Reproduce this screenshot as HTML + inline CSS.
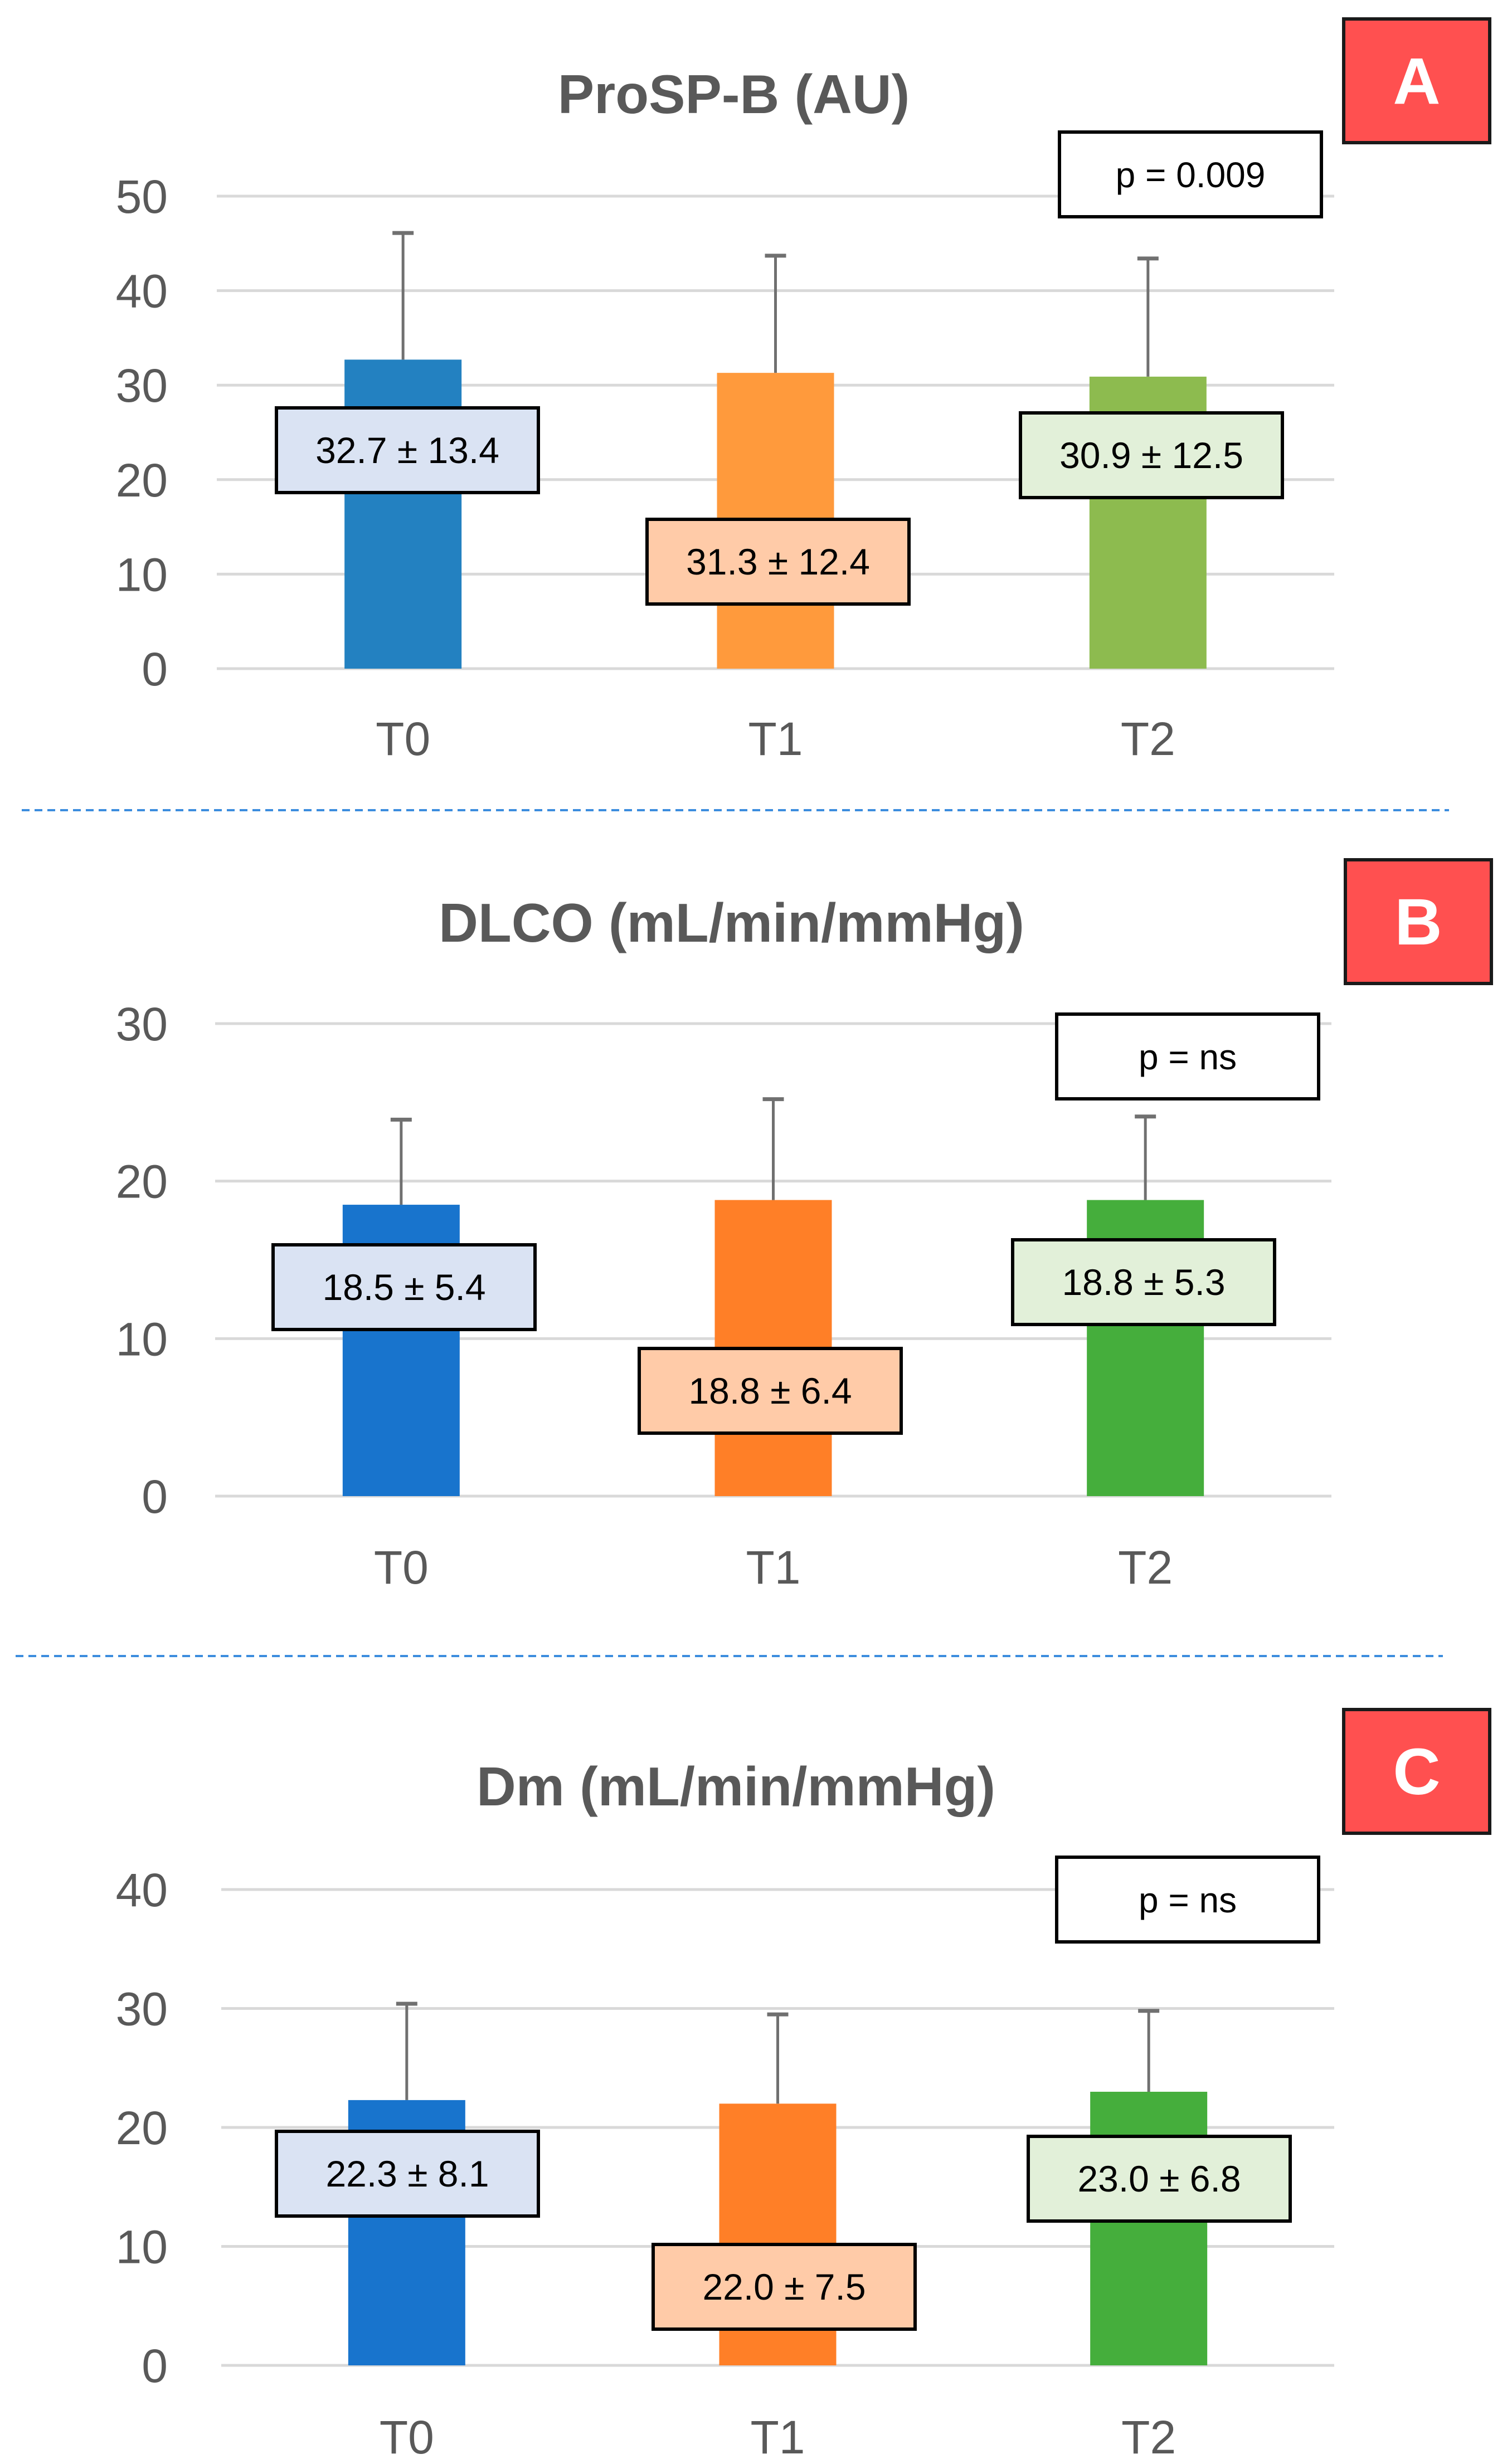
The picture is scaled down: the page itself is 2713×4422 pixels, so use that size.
<!DOCTYPE html>
<html><head><meta charset="utf-8"><style>
html,body{margin:0;padding:0;background:#fff;}
svg{display:block;font-family:"Liberation Sans",sans-serif;}
</style></head><body>
<svg id="chart" xmlns="http://www.w3.org/2000/svg" width="2713" height="4422" viewBox="0 0 2713 4422">
<line x1="39" y1="1454" x2="2600" y2="1454" stroke="#3C8DDE" stroke-width="4" stroke-dasharray="14,9"/>
<line x1="28" y1="2972" x2="2589" y2="2972" stroke="#3C8DDE" stroke-width="4" stroke-dasharray="14,9"/>
</svg>
<script>
const categories = ["T0","T1","T2"];
const titles = ["ProSP-B (AU)","DLCO (mL/min/mmHg)","Dm (mL/min/mmHg)"];
const panelLetters = ["A","B","C"];
const pLabels = ["p = 0.009","p = ns","p = ns"];
const meansA = [32.7,31.3,30.9];
const sdsA = [13.4,12.4,12.5];
const meansB = [18.5,18.8,18.8];
const sdsB = [5.4,6.4,5.3];
const meansC = [22.3,22.0,23.0];
const sdsC = [8.1,7.5,6.8];
const ticksA = [0,10,20,30,40,50];
const ticksB = [0,10,20,30];
const ticksC = [0,10,20,30,40];

const NS="http://www.w3.org/2000/svg";
const svg=document.getElementById('chart');
function mk(tag,attrs,parent){const e=document.createElementNS(NS,tag);for(const k in attrs)e.setAttribute(k,attrs[k]);(parent||svg).appendChild(e);return e;}

const panels=[
 {means:meansA,sds:sdsA,ticks:ticksA,max:50,y0:1200,yTop:352,x0:389,x1:2394,titleY:203,labelY:1355,
  colors:["#2381C1","#FF9A3C","#8DBB4F"],
  boxes:[[496,732],[1161,932],[1831,741]],pbox:[1901,237],letter:[2411,34]},
 {means:meansB,sds:sdsB,ticks:ticksB,max:30,y0:2685,yTop:1837,x0:386,x1:2389,titleY:1690,labelY:2842,
  colors:["#1874CD","#FF7F27","#45AE3C"],
  boxes:[[490,2234],[1147,2420],[1817,2225]],pbox:[1896,1820],letter:[2414,1543]},
 {means:meansC,sds:sdsC,ticks:ticksC,max:40,y0:4245,yTop:3391,x0:397,x1:2394,titleY:3240,labelY:4403,
  colors:["#1874CD","#FF7F27","#45AE3C"],
  boxes:[[496,3825],[1172,4028],[1845,3834]],pbox:[1896,3333],letter:[2411,3068]}
];
const boxFills=["#DAE3F3","#FFCBA8","#E2F0D9"];
const BW=470,BH=152;

panels.forEach((p,pi)=>{
  const g=mk('g',{});
  
  
  const y=v=>p.y0-(v/p.max)*(p.y0-p.yTop);
  const step=(p.x1-p.x0)/categories.length;
  const xc=i=>p.x0+step*(i+0.5);
  p.ticks.forEach(t=>{
    const l=mk('line',{x1:p.x0,x2:p.x1,y1:y(t),y2:y(t),stroke:'#D9D9D9','stroke-width':5},g);
    
    
    const tx=mk('text',{x:301,y:y(t)+30,'text-anchor':'end','font-size':84,fill:'#595959'},g);
    tx.textContent=t;
    
    
  });
  const ti=mk('text',{x:(p.x0+p.x1)/2-75,y:p.titleY,'text-anchor':'middle','font-size':98,'font-weight':'bold',fill:'#595959'},g);
  ti.textContent=titles[pi];
  
  
  categories.forEach((c,i)=>{
    const m=p.means[i],s=p.sds[i],cx=xc(i);
    const r=mk('rect',{x:cx-105,y:y(m),width:210,height:p.y0-y(m),fill:p.colors[i]},g);
    
    
    const e=mk('line',{x1:cx,x2:cx,y1:y(m),y2:y(m+s),stroke:'#707070','stroke-width':5},g);
    
    
    const cap=mk('line',{x1:cx-19,x2:cx+19,y1:y(m+s),y2:y(m+s),stroke:'#707070','stroke-width':7},g);
    
    
    const xl=mk('text',{x:cx,y:p.labelY,'text-anchor':'middle','font-size':84,fill:'#595959'},g);
    xl.textContent=c;
    
    
    const b=p.boxes[i];
    const br=mk('rect',{x:b[0],y:b[1],width:BW,height:BH,fill:boxFills[i],stroke:'#000','stroke-width':6},g);
    
    
    const bt=mk('text',{x:b[0]+BW/2,y:b[1]+BH/2+23,'text-anchor':'middle','font-size':66,fill:'#000'},g);
    bt.textContent=m.toFixed(1)+' ± '+s.toFixed(1);
    
    
  });
  const pr=mk('rect',{x:p.pbox[0],y:p.pbox[1],width:BW,height:BH,fill:'#fff',stroke:'#000','stroke-width':6},g);
  
  
  const pt=mk('text',{x:p.pbox[0]+BW/2,y:p.pbox[1]+BH/2+23,'text-anchor':'middle','font-size':64,fill:'#000'},g);
  pt.textContent=pLabels[pi];
  
  
  const lr=mk('rect',{x:p.letter[0],y:p.letter[1],width:262,height:222,fill:'#FF5050',stroke:'#1a1a1a','stroke-width':6},g);
  
  
  const lt=mk('text',{x:p.letter[0]+131,y:p.letter[1]+152,'text-anchor':'middle','font-size':118,'font-weight':'bold',fill:'#fff'},g);
  lt.textContent=panelLetters[pi];
  
  
});
</script>
</body></html>
